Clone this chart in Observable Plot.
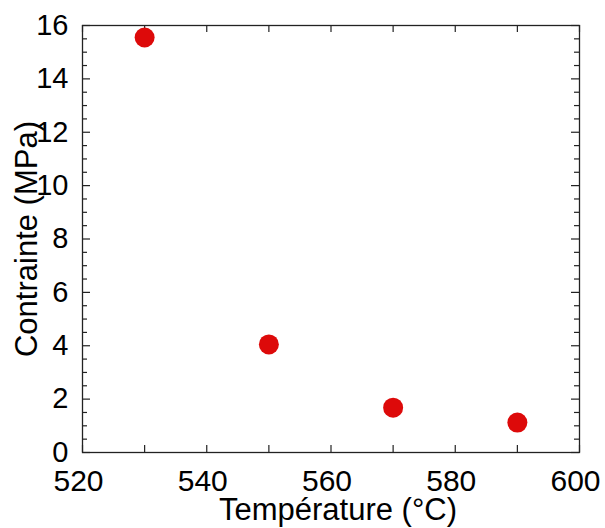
<!DOCTYPE html>
<html><head><meta charset="utf-8">
<script src="https://cdn.jsdelivr.net/npm/d3@7"></script>
<script src="https://cdn.jsdelivr.net/npm/@observablehq/plot@0.6"></script>
<style>body{margin:0;background:#fff}</style>
</head><body><div id="chart"></div>
<script>
const temperature = [530, 550, 570, 590];
const contrainte = [15.55, 4.05, 1.68, 1.12];
const xMajor = [520, 540, 560, 580, 600];
const xTicks = [520, 530, 540, 550, 560, 570, 580, 590, 600];
const yMajor = [0, 2, 4, 6, 8, 10, 12, 14, 16];
const yMinor = d3.range(0, 16.01, 0.5).filter(v => v % 2 !== 0);
const data = temperature.map((t, i) => ({t, c: contrainte[i]}));

const W = 605, H = 528, mL = 82, mR = 26, mT = 25, mB = 76;
const pw = W - mL - mR, ph = H - mT - mB;
const font = "Liberation Sans, Arial, sans-serif";
const ink = "#222";

const chart = Plot.plot({
  width: W, height: H,
  marginLeft: mL, marginRight: mR, marginTop: mT, marginBottom: mB,
  style: {fontFamily: font, background: "#fff", color: "#000"},
  x: {domain: [520, 600]},
  y: {domain: [0, 16]},
  marks: [
    Plot.tickX(xTicks, {x: d => d, insetTop: ph - 7, stroke: ink, strokeWidth: 1.2}),
    Plot.tickX(xTicks, {x: d => d, insetBottom: ph - 7, stroke: ink, strokeWidth: 1.2}),
    Plot.tickY(yMajor, {y: d => d, insetRight: pw - 8, stroke: ink, strokeWidth: 1.2}),
    Plot.tickY(yMajor, {y: d => d, insetLeft: pw - 8, stroke: ink, strokeWidth: 1.2}),
    Plot.tickY(yMinor, {y: d => d, insetRight: pw - 5, stroke: ink, strokeWidth: 1.2}),
    Plot.tickY(yMinor, {y: d => d, insetLeft: pw - 5, stroke: ink, strokeWidth: 1.2}),
    Plot.frame({stroke: ink, strokeWidth: 1.3}),
    Plot.axisX(xMajor, {tickSize: 0, tickPadding: 17, fontSize: 30, dx: -4, label: null, fill: "#000"}),
    Plot.axisY(yMajor, {tickSize: 0, tickPadding: 14, fontSize: 29, dy: 0, label: null, fill: "#000"}),
    Plot.dot(data, {x: "t", y: "c", r: 10, fill: "#dd0a0a", stroke: "none"}),
    Plot.text(["Température (°C)"], {frameAnchor: "bottom", dy: 67, dx: 7, lineAnchor: "bottom", textAnchor: "middle", fontSize: 31, fill: "#000"}),
    Plot.text(["Contrainte (MPa)"], {frameAnchor: "left", dx: -55, dy: 0, rotate: -90, textAnchor: "middle", lineAnchor: "middle", fontSize: 31, fill: "#000"})
  ]
});
document.getElementById("chart").appendChild(chart);
</script></body></html>
